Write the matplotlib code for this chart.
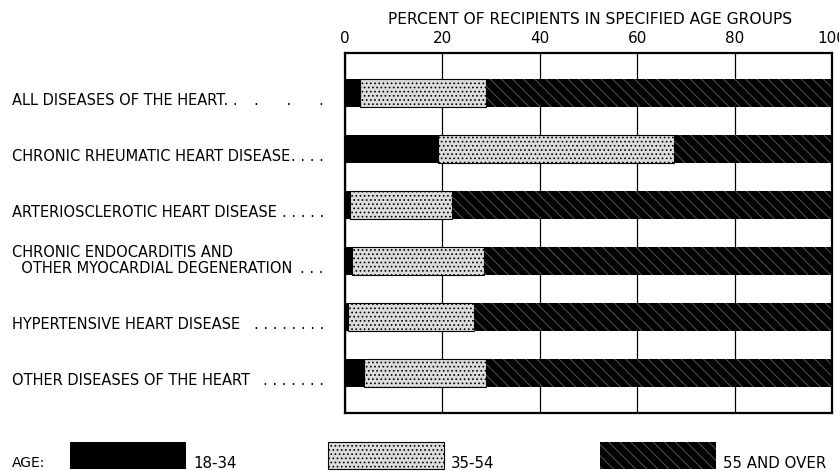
import numpy as np
import matplotlib
matplotlib.use("Agg")
from matplotlib import pyplot as plt
from matplotlib import transforms
from matplotlib.patches import Rectangle

# Data (percent of recipients by age group)
diseases = ["ALL DISEASES OF THE HEART. .",
            "CHRONIC RHEUMATIC HEART DISEASE",
            "ARTERIOSCLEROTIC HEART DISEASE",
            "CHRONIC ENDOCARDITIS AND\n  OTHER MYOCARDIAL DEGENERATION",
            "HYPERTENSIVE HEART DISEASE",
            "OTHER DISEASES OF THE HEART"]
leaders = [".      .      .",
           ". . . .",
           ". . . . .",
           ". . .",
           ". . . . . . . .",
           ". . . . . . ."]
age_18_34 = [3, 19, 1, 1.5, 0.6, 4]
age_35_54 = [26, 48.5, 21, 27, 25.8, 25]
age_55_over = [71, 32.5, 78, 71.5, 73.6, 71]
age_groups = ["18-34", "35-54", "55 AND OVER"]
xticks = [0, 20, 40, 60, 80, 100]

plt.rcParams['hatch.linewidth'] = 0.7
fig = plt.figure(figsize=(8.39, 4.71), dpi=100)
ax = fig.add_axes([345/839, 1-413/471, 487/839, 360/471])

styles = [dict(color="black", linewidth=0),
          dict(facecolor="#dcdcdc", edgecolor="black", hatch="....", linewidth=0.8),
          dict(facecolor="black", edgecolor="#555555", hatch="\\\\\\", linewidth=0)]

y = np.arange(len(diseases))
left = np.zeros(len(diseases))
for vals, st in zip([age_18_34, age_35_54, age_55_over], styles):
    ax.barh(y, vals, left=left, height=0.5, zorder=2, **st)
    left = left + np.array(vals)

ax.set_xlim(0, 100)
ax.set_ylim(5.714, -0.714)
ax.set_yticks([])
ax.set_xticks(xticks)
ax.xaxis.tick_top()
ax.tick_params(axis="x", length=0, pad=5, labelsize=11)
ax.grid(axis="x", color="black", linewidth=0.9)
ax.set_axisbelow(True)
for s in ax.spines.values():
    s.set_linewidth(1.6)

fig.text(590/839, 1-20/471, "PERCENT OF RECIPIENTS IN SPECIFIED AGE GROUPS",
         ha="center", va="center", fontsize=11.2)

# category labels with dot leaders
tr = transforms.blended_transform_factory(fig.transFigure, ax.transData)
for i, (lab, lead) in enumerate(zip(diseases, leaders)):
    lines = lab.split("\n")
    n = len(lines)
    for j, line in enumerate(lines):
        ax.text(12/839, i + 0.14 - 0.29*(n-1-j), line, transform=tr,
                ha="left", va="center", fontsize=10.5, clip_on=False)
    ax.text(324/839, i + 0.14, lead, transform=tr, ha="right", va="center",
            fontsize=10.5, clip_on=False)

# legend along the bottom
fig.text(12/839, 1-463/471, "AGE:", ha="left", va="center", fontsize=10)
box_x = [70, 328, 600]
for bx, st, lab in zip(box_x, styles, age_groups):
    fig.add_artist(Rectangle((bx/839, 1-469/471), 116/839, 27/471,
                             transform=fig.transFigure, **st))
    fig.text((bx+123)/839, 1-464/471, lab, ha="left", va="center", fontsize=10.8)

fig.savefig("out.png", dpi=100)
